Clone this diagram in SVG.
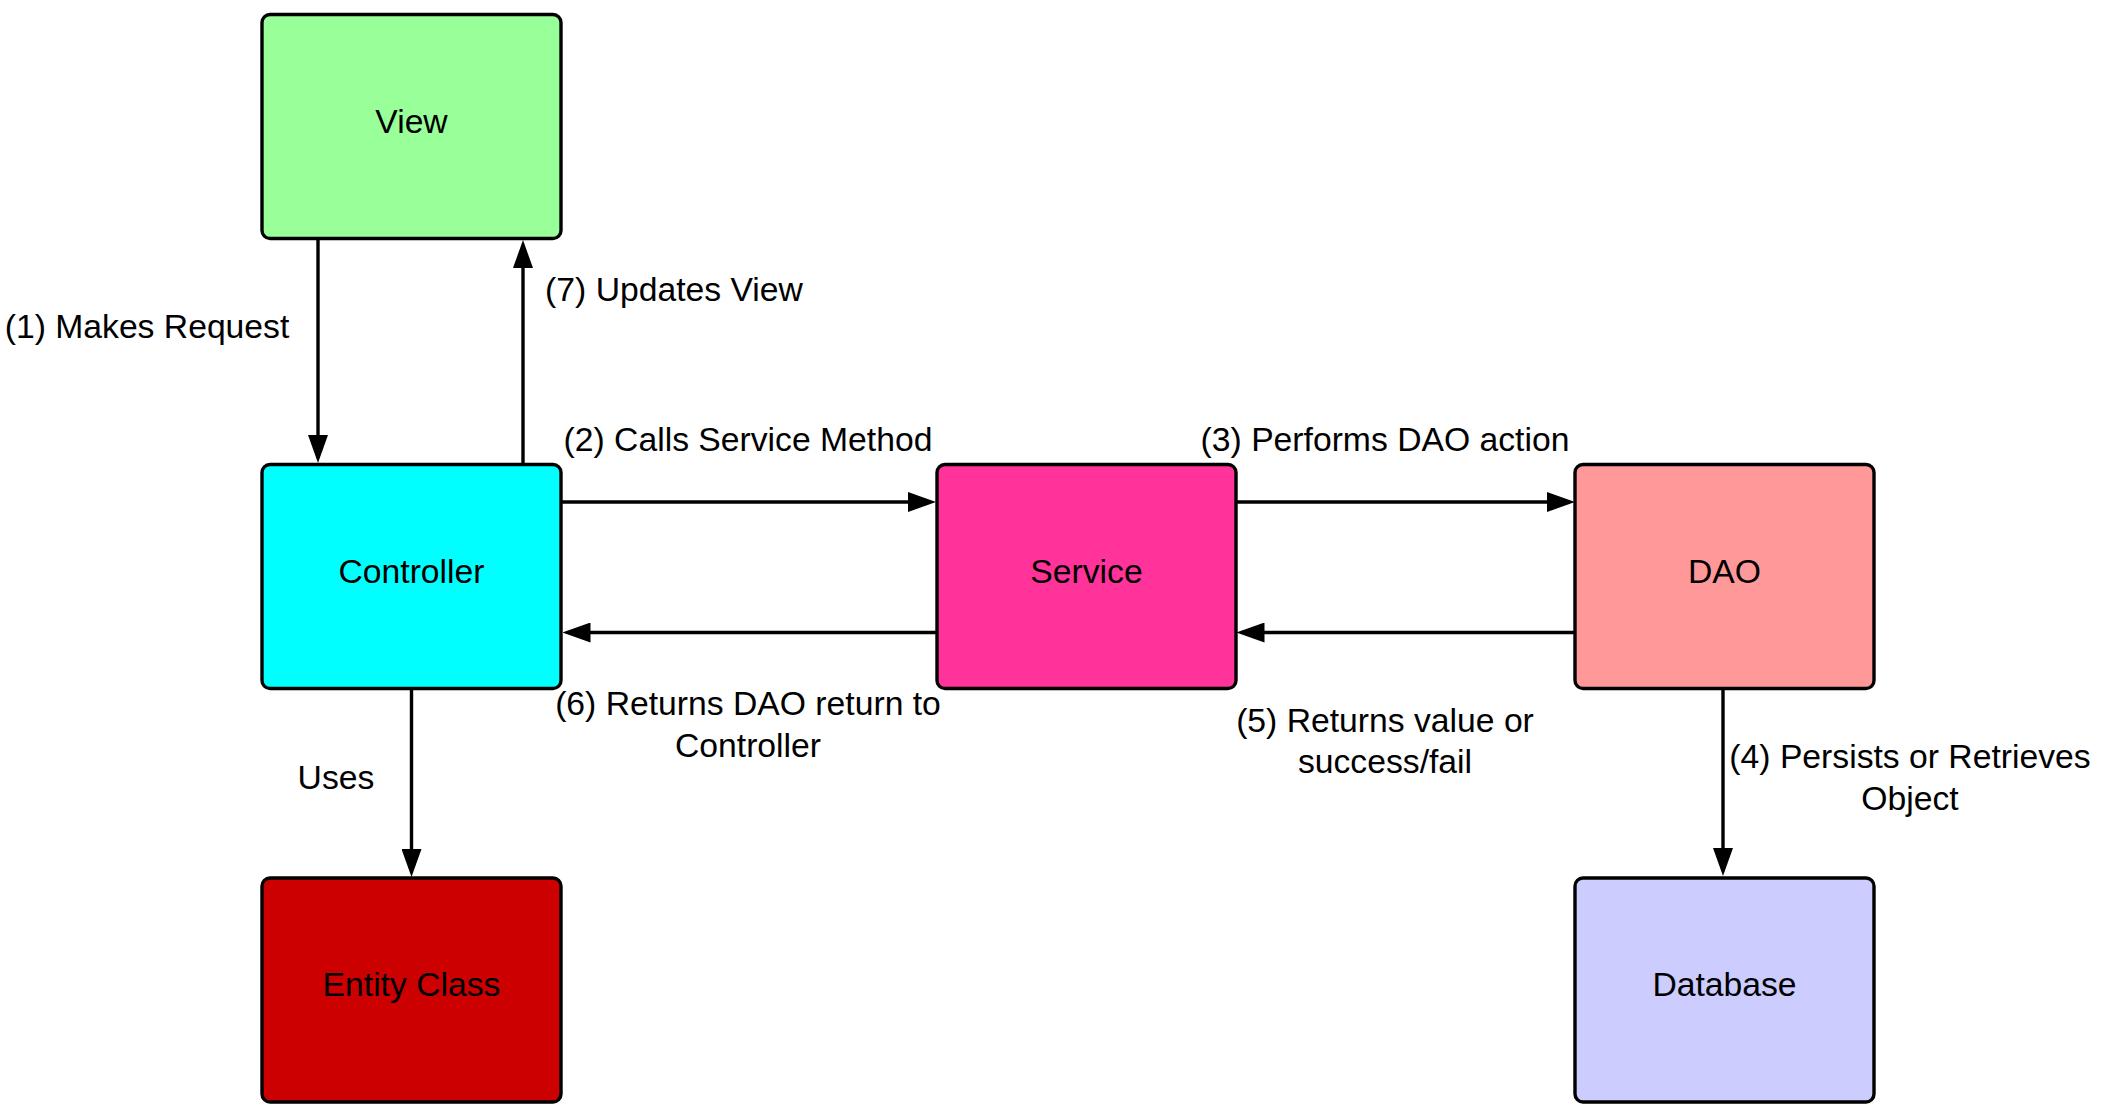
<svg xmlns="http://www.w3.org/2000/svg" width="2102" height="1114" viewBox="0 0 2102 1114">
  <style>
    .node rect { stroke: #000000; stroke-width: 3.4; }
    .node text, .label { font-family: "Liberation Sans", Arial, sans-serif; font-size: 33.7px; fill: #000000; text-anchor: middle; }
    .conn line { stroke: #000000; stroke-width: 3.4; fill: none; }
  </style>
  <defs>
    <marker id="arrow" viewBox="0 0 28 20" refX="8" refY="10" markerWidth="28" markerHeight="20" markerUnits="userSpaceOnUse" orient="auto">
      <polygon points="0,0 28,10 0,20" fill="#000000"/>
    </marker>
  </defs>
  <rect x="0" y="0" width="2102" height="1114" fill="#ffffff"/>

  <g id="connectors" class="conn">
    <line id="c1" x1="318" y1="239" x2="318" y2="443" marker-end="url(#arrow)"/>
    <line id="c7" x1="523" y1="464" x2="523" y2="260" marker-end="url(#arrow)"/>
    <line id="c2" x1="561" y1="502" x2="916" y2="502" marker-end="url(#arrow)"/>
    <line id="c6" x1="937" y1="632.5" x2="582.5" y2="632.5" marker-end="url(#arrow)"/>
    <line id="c3" x1="1236" y1="502" x2="1555" y2="502" marker-end="url(#arrow)"/>
    <line id="c5" x1="1575" y1="632.5" x2="1256.5" y2="632.5" marker-end="url(#arrow)"/>
    <line id="cUses" x1="411.5" y1="688" x2="411.5" y2="857" marker-end="url(#arrow)"/>
    <line id="c4" x1="1723" y1="688" x2="1723" y2="856" marker-end="url(#arrow)"/>
  </g>

  <g id="edge-labels">
    <text class="label" x="147" y="338">(1) Makes Request</text>
    <text class="label" x="674" y="301">(7) Updates View</text>
    <text class="label" x="748" y="451">(2) Calls Service Method</text>
    <text class="label" x="1385" y="451">(3) Performs DAO action</text>
    <text class="label" x="748" y="715">(6) Returns DAO return to</text>
    <text class="label" x="748" y="757">Controller</text>
    <text class="label" x="1385" y="732">(5) Returns value or</text>
    <text class="label" x="1385" y="773">success/fail</text>
    <text class="label" x="1910" y="768">(4) Persists or Retrieves</text>
    <text class="label" x="1910" y="810">Object</text>
    <text class="label" x="336" y="789">Uses</text>
  </g>

  <g id="view" class="node">
    <rect x="262" y="14.5" width="299" height="224" rx="8" ry="8" fill="#99ff99"/>
    <text x="411.5" y="133">View</text>
  </g>
  <g id="controller" class="node">
    <rect x="262" y="464.5" width="299" height="224" rx="8" ry="8" fill="#00ffff"/>
    <text x="411.5" y="583">Controller</text>
  </g>
  <g id="entity-class" class="node">
    <rect x="262" y="878" width="299" height="224" rx="8" ry="8" fill="#cc0000"/>
    <text x="411.5" y="996">Entity Class</text>
  </g>
  <g id="service" class="node">
    <rect x="937" y="464.5" width="299" height="224" rx="8" ry="8" fill="#ff3399"/>
    <text x="1086.5" y="583">Service</text>
  </g>
  <g id="dao" class="node">
    <rect x="1575" y="464.5" width="299" height="224" rx="8" ry="8" fill="#ff9999"/>
    <text x="1724.5" y="583">DAO</text>
  </g>
  <g id="database" class="node">
    <rect x="1575" y="878" width="299" height="224" rx="8" ry="8" fill="#ccccff"/>
    <text x="1724.5" y="996">Database</text>
  </g>
</svg>
